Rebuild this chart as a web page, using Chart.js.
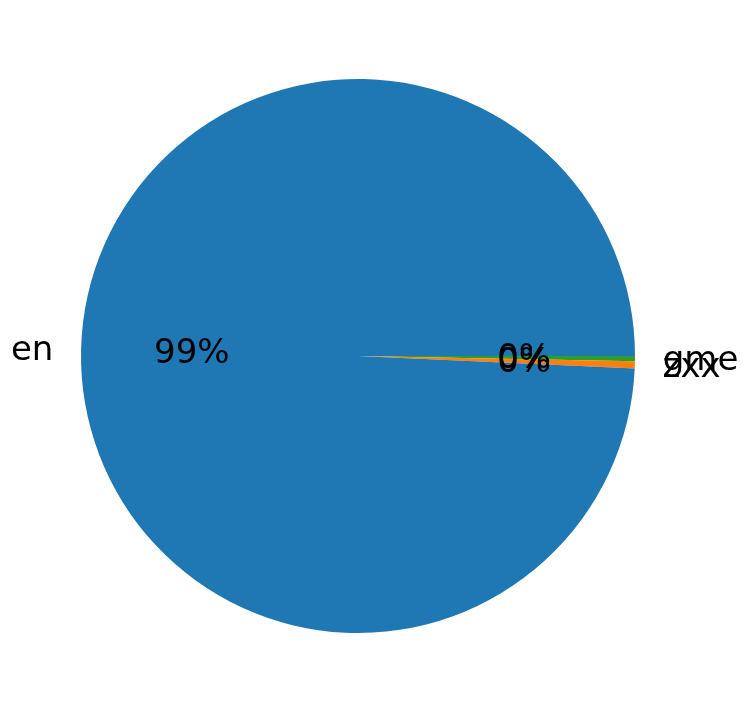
<!DOCTYPE html>
<html>
<head>
<meta charset="utf-8">
<script src="https://cdn.jsdelivr.net/npm/chart.js@4/dist/chart.umd.min.js"></script>
<style>
  html, body { margin: 0; padding: 0; background: #fff; }
  #wrap { width: 750px; height: 713px; }
</style>
</head>
<body>
<div id="wrap"><canvas id="pie"></canvas></div>
<script>
// slices in clockwise order starting at 3 o'clock
const labels = ["gme", "zxx", "en"];
const values = [0.30, 0.42, 99.28];
const colors = ["#2ca02c", "#ff7f0e", "#1f77b4"];

const total = values.reduce((a, b) => a + b, 0);

const pieLabels = {
  id: "pieLabels",
  afterDatasetsDraw(chart) {
    const ctx = chart.ctx;
    const arcs = chart.getDatasetMeta(0).data;
    ctx.save();
    ctx.font = "34px 'DejaVu Sans'";
    ctx.fillStyle = "#000";
    ctx.textBaseline = "middle";
    arcs.forEach((arc, i) => {
      const mid = (arc.startAngle + arc.endAngle) / 2;
      const r = arc.outerRadius;
      const cos = Math.cos(mid), sin = Math.sin(mid);
      // category label outside
      ctx.textAlign = cos >= 0 ? "left" : "right";
      ctx.fillText(labels[i], arc.x + 1.1 * r * cos, arc.y + 1.1 * r * sin + 2);
      // percentage inside
      ctx.textAlign = "center";
      const pct = Math.round(values[i] / total * 100) + "%";
      ctx.fillText(pct, arc.x + 0.6 * r * cos, arc.y + 0.6 * r * sin + 2);
    });
    ctx.restore();
  }
};

new Chart(document.getElementById("pie"), {
  type: "pie",
  data: {
    labels: labels,
    datasets: [
      {
        data: values,
        backgroundColor: colors,
        borderWidth: 0,
      },
    ],
  },
  options: {
    responsive: true,
    maintainAspectRatio: false,
    animation: false,
    rotation: 90,
    layout: {
      padding: { left: 81, right: 115, top: 79, bottom: 80 },
    },
    plugins: {
      legend: { display: false },
      tooltip: { enabled: false },
    },
  },
  plugins: [pieLabels],
});
</script>
</body>
</html>
